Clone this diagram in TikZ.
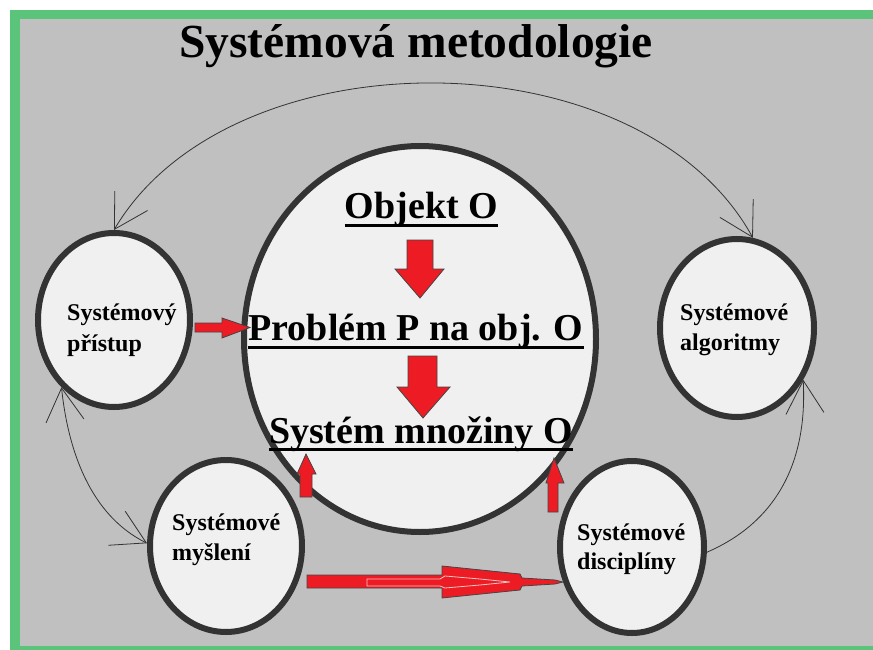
\documentclass[tikz,border=0pt]{standalone}
\usepackage{fontspec}
\setmainfont{Liberation Serif}
\usetikzlibrary{shapes.geometric,arrows.meta}
\definecolor{bggray}{HTML}{C0C0C0}
\definecolor{grn}{HTML}{5AC57A}
\definecolor{ellfill}{HTML}{F0F0F0}
\definecolor{ringcol}{HTML}{333333}
\definecolor{arrred}{HTML}{ED1C24}
\definecolor{arrline}{HTML}{444444}
\definecolor{inner}{HTML}{F0C8C8}
\tikzset{mybarb/.tip={Straight Barb[length=33pt,width=38pt]}}
\begin{document}
\begin{tikzpicture}[x=1pt,y=-1pt,
  ell/.style={ellipse, draw=ringcol, fill=ellfill, line width=6pt, inner sep=0pt},
  bigtxt/.style={font=\fontsize{38}{40}\selectfont\bfseries, inner sep=0pt, anchor=base},
  smalltxt/.style={font=\fontsize{24}{28}\selectfont\bfseries, inner sep=0pt, anchor=base west},
  titletxt/.style={font=\fontsize{47.5}{50}\selectfont\bfseries, inner sep=0pt, anchor=base},
  uline/.style={line width=3pt, draw=black},
  thinline/.style={line width=0.8pt, draw=ringcol},
  redarrow/.style={fill=arrred, draw=arrline, line width=0.8pt, line join=miter}]
\useasboundingbox (0,0) rectangle (873,650);
\fill[white] (0,0) rectangle (873,650);
\fill[grn] (10,10) rectangle (873,650);
\fill[bggray] (20,19) rectangle (873,646);

% title
\node[titletxt] (title) at (416,58) {Systémová metodologie};

% ellipses
\node[ell, minimum width=352pt, minimum height=386pt] (big) at (420,339) {};
\node[ell, minimum width=152pt, minimum height=174pt] (sp) at (114,320) {};
\node[ell, minimum width=152pt, minimum height=172pt] (sm) at (226,546) {};
\node[ell, minimum width=154pt, minimum height=178pt] (sa) at (737,328) {};
\node[ell, minimum width=144pt, minimum height=172pt] (sd) at (632,547) {};

% labels in small ellipses
\node[smalltxt] (sp1) at (67,320) {Systémový};
\node[smalltxt] (sp2) at (67,351) {přístup};
\node[smalltxt] (sm1) at (172,530) {Systémové};
\node[smalltxt] (sm2) at (172,560) {myšlení};
\node[smalltxt] (sa1) at (680,320) {Systémové};
\node[smalltxt] (sa2) at (680,350) {algoritmy};
\node[smalltxt] (sd1) at (577,540) {Systémové};
\node[smalltxt] (sd2) at (577,569) {disciplíny};

% central texts
\node[bigtxt] (obj) at (421.5,218) {Objekt O};
\node[bigtxt] (prob) at (416,340) {Problém P na obj. O};
\node[bigtxt] (sys) at (421,443) {Systém množiny O};
\draw[uline] ([yshift=-7pt]obj.base west) -- ([yshift=-7pt]obj.base east);
\draw[uline] ([yshift=-7pt]prob.base west) -- ([yshift=-7pt]prob.base east);
\draw[uline] ([yshift=-6pt]sys.base west) -- ([yshift=-6pt]sys.base east);

% red block arrows
\draw[redarrow] (407,240) -- (433,240) -- (433,269) -- (444,269) -- (420,298) -- (395,269) -- (407,269) -- cycle;
\draw[redarrow] (408,356) -- (437,356) -- (437,387) -- (450,387) -- (423,418) -- (397,387) -- (408,387) -- cycle;
\draw[redarrow] (195,323) -- (222,323) -- (222,318) -- (250,327.5) -- (222,338) -- (222,332) -- (195,332) -- cycle;
\draw[redarrow] (300,497) -- (300,474) -- (297,474) -- (306,454) -- (316,474) -- (312,474) -- (312,497) -- cycle;
\draw[redarrow] (548,512) -- (548,483) -- (546,483) -- (554,458) -- (564,483) -- (558,483) -- (558,512) -- cycle;
% bottom tapered arrow
\draw[redarrow] (307,575) -- (442,575) -- (442,566) -- (520,574) -- (522,578) -- (555,580) -- (563,582) -- (555,584) -- (522,586) -- (520,590) -- (442,598) -- (442,588) -- (307,588) -- cycle;
\draw[inner, line width=0.8pt] (367,579) -- (440,579) -- (445,576) -- (480,579) -- (500,581) -- (510,582) -- (500,583) -- (480,585) -- (445,588) -- (440,586) -- (367,586) -- cycle;

% thin connectors
\draw[thinline, mybarb-mybarb] (sp.north) .. controls (230,33) and (640,33) .. (sa.80);
\draw[thinline, mybarb-mybarb] (sp.232) .. controls (68,450) and (90,515) .. (sm.178);
\draw[thinline, -mybarb] (sd.-4) .. controls (770,525) and (808,470) .. (sa.-38);
\end{tikzpicture}
\end{document}
